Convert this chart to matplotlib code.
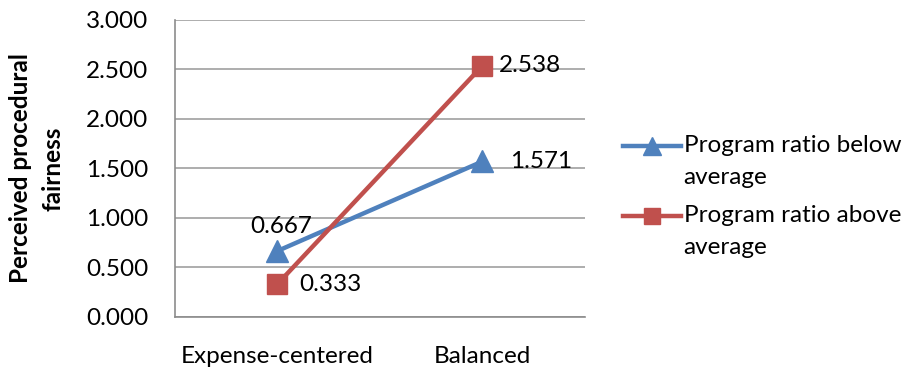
import matplotlib
matplotlib.use("Agg")
import matplotlib.pyplot as plt
from matplotlib.legend_handler import HandlerLine2D

categories = ["Expense-centered", "Balanced"]
below_avg = [0.667, 1.571]
above_avg = [0.333, 2.538]
series_names = ["Program ratio below\naverage", "Program ratio above\naverage"]
y_ticks = [0.0, 0.5, 1.0, 1.5, 2.0, 2.5, 3.0]

plt.rcParams['font.family'] = ['Lato', 'DejaVu Sans']
fs = 17.5


class RaisedHandler(HandlerLine2D):
    # put the legend key level with the first line of a two-line label
    def create_artists(self, legend, orig_handle, xdescent, ydescent,
                       width, height, fontsize, trans):
        return super().create_artists(legend, orig_handle, xdescent,
                                      ydescent - 22, width, height, fontsize, trans)


fig = plt.figure(figsize=(9.08, 3.75), dpi=100)
ax = fig.add_axes([0.1927, 0.1547, 0.4515, 0.792])

x = list(range(len(categories)))
blue = "#4F81BD"
red = "#C0504D"

l1, = ax.plot(x, below_avg, color=blue, lw=3.2, marker="^", markersize=16,
              label=series_names[0], zorder=3)
l2, = ax.plot(x, above_avg, color=red, lw=3.2, marker="s", markersize=14,
              label=series_names[1], zorder=3)

# data labels
ax.annotate(f"{below_avg[0]:.3f}", (x[0], below_avg[0]), xytext=(3, 10),
            textcoords="offset points", ha="center", va="bottom", fontsize=fs)
ax.annotate(f"{below_avg[1]:.3f}", (x[1], below_avg[1]), xytext=(20, 0),
            textcoords="offset points", ha="left", va="center", fontsize=fs)
ax.annotate(f"{above_avg[0]:.3f}", (x[0], above_avg[0]), xytext=(16, 0),
            textcoords="offset points", ha="left", va="center", fontsize=fs)
ax.annotate(f"{above_avg[1]:.3f}", (x[1], above_avg[1]), xytext=(12, 0),
            textcoords="offset points", ha="left", va="center", fontsize=fs)

ax.set_xlim(-0.5, 1.5)
ax.set_ylim(0, 3)
ax.set_yticks(y_ticks)
ax.set_yticklabels([f"{v:.3f}" for v in y_ticks])
ax.set_xticks(x)
ax.set_xticklabels(categories)
ax.tick_params(axis="both", length=0, labelsize=fs)
ax.tick_params(axis="x", pad=21)
ax.tick_params(axis="y", pad=19)

ax.grid(axis="y", color="#A0A0A0", lw=1.2)
ax.set_axisbelow(True)
for s in ["top", "right"]:
    ax.spines[s].set_visible(False)
for s in ["left", "bottom"]:
    ax.spines[s].set_color("#8C8C8C")
    ax.spines[s].set_linewidth(1.2)

ax.set_ylabel("Perceived procedural\nfairness", fontsize=fs, fontweight="bold",
              labelpad=16, linespacing=1.5)

leg = fig.legend(handles=[l1, l2], loc="center left", bbox_to_anchor=(0.686, 0.477),
                 frameon=False, fontsize=fs, handlelength=2.4, handletextpad=0.1,
                 labelspacing=0.7, borderpad=0, borderaxespad=0, markerscale=0.85,
                 handler_map={l1: RaisedHandler(), l2: RaisedHandler()})
for t in leg.get_texts():
    t.set_linespacing(1.65)

fig.savefig("out.png", dpi=100)
